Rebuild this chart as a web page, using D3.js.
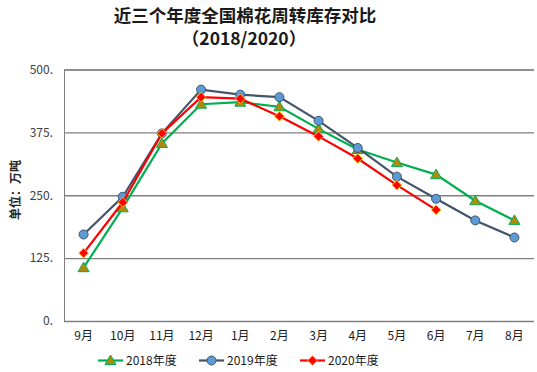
<!DOCTYPE html>
<html><head><meta charset="utf-8">
<script src="https://cdn.jsdelivr.net/npm/d3@7"></script>
<style>body{margin:0;background:#fff}svg{display:block}text{font-family:"Noto Sans CJK SC","Liberation Sans",sans-serif}</style>
</head><body><svg id="c" width="537" height="372"></svg>
<script>
const months = ["9月","10月","11月","12月","1月","2月","3月","4月","5月","6月","7月","8月"];
const s2018 = [106,225,353,431,435,426,382,341,315,291,239,200];
const s2019 = [172,247,373,460,450,445,398,344,287,243,200,166];
const s2020 = [135,236,373,445,442,407,367,323,270,221];
const yTicks = [0,125,250,375,500];
const seriesNames = ["2018年度","2019年度","2020年度"];

const svg = d3.select("#c");
const L=64, R=534, T=69.5, B=321;
const x = d3.scaleBand().domain(months).range([L,R]);
const y = d3.scaleLinear().domain([0,500]).range([B,T]);

// title
svg.append("text").attr("x",245).attr("y",22).attr("text-anchor","middle")
  .attr("font-size",17.5).attr("font-weight","bold").attr("fill","#1a1a1a").text("近三个年度全国棉花周转库存对比");
svg.append("text").attr("x",244).attr("y",44.5).attr("text-anchor","middle")
  .attr("font-family","'Liberation Sans',Arial,sans-serif")
  .attr("font-size",17.5).attr("font-weight","bold").attr("fill","#1a1a1a").text("（2018/2020）");

// grid
const yAxis = d3.axisLeft(y).tickValues(yTicks).tickSize(-(R-L)).tickFormat(d=>d+".");
const gy = svg.append("g").attr("transform",`translate(${L},0)`).call(yAxis);
gy.select(".domain").attr("stroke","#808080");
gy.selectAll(".tick line").attr("stroke","#808080").attr("stroke-width",1.3);
gy.selectAll(".tick text").attr("x",-11).attr("font-size",12).attr("fill","#404040")
  .attr("font-family","'Liberation Sans',Arial,sans-serif");

const xAxis = d3.axisBottom(x).tickSize(0).tickPadding(10);
const gx = svg.append("g").attr("transform",`translate(0,${B})`).call(xAxis);
gx.select(".domain").remove();
gx.selectAll(".tick text").attr("font-size",12).attr("fill","#1a1a1a");

svg.append("text").attr("transform","translate(20,190) rotate(-90)").attr("text-anchor","middle")
  .attr("font-size",12).attr("font-weight","bold").attr("fill","#262626").text("单位：万吨");

const cx = (d,i)=> x(months[i]) + x.bandwidth()/2;
const line = d3.line().x(cx).y(d=>y(d));

function marker(g, type, px, py){
  if(type==="tri"){
    g.append("path").attr("d",`M${px},${py-5.5}L${px+5.5},${py+4}L${px-5.5},${py+4}Z`)
      .attr("fill","#B08A0C").attr("stroke","#00B050").attr("stroke-width",1);
  } else if(type==="circ"){
    g.append("circle").attr("cx",px).attr("cy",py).attr("r",4.5)
      .attr("fill","#5B9BD5").attr("stroke","#44546A").attr("stroke-width",1);
  } else {
    g.append("path").attr("d",`M${px},${py-4.8}L${px+4.8},${py}L${px},${py+4.8}L${px-4.8},${py}Z`)
      .attr("fill","#FF0000").attr("stroke","#FFC000").attr("stroke-width",1);
  }
}

const series = [
  {data:s2018,color:"#00B050",m:"tri"},
  {data:s2019,color:"#44546A",m:"circ"},
  {data:s2020,color:"#FF0000",m:"dia"}
];
series.forEach(s=>{
  const g = svg.append("g");
  g.append("path").attr("d",line(s.data)).attr("fill","none").attr("stroke",s.color).attr("stroke-width",2.2);
  s.data.forEach((d,i)=>marker(g,s.m,cx(d,i),y(d)));
});

// legend
const lx=[98,199,300];
series.forEach((s,i)=>{
  const g=svg.append("g");
  g.append("line").attr("x1",lx[i]).attr("x2",lx[i]+25).attr("y1",360.5).attr("y2",360.5)
    .attr("stroke",s.color).attr("stroke-width",2.2);
  marker(g,s.m,lx[i]+12.5,360.5);
  g.append("text").attr("x",lx[i]+28).attr("y",365).attr("font-size",12).attr("fill","#1a1a1a").text(seriesNames[i]);
});
</script></body></html>
